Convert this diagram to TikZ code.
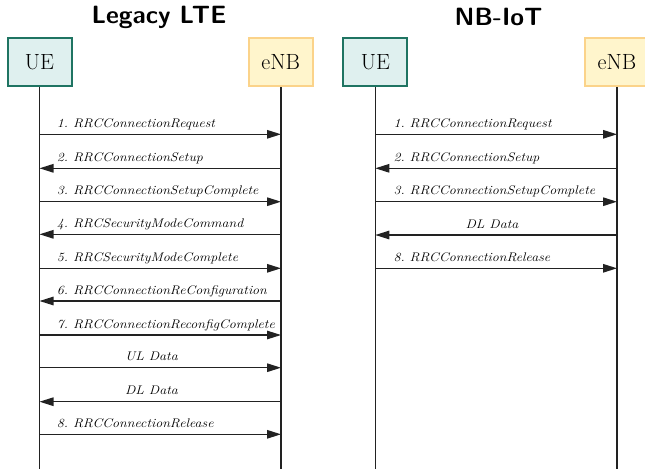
\documentclass[tikz,border=0pt]{standalone}
\usetikzlibrary{arrows.meta}
\definecolor{uefill}{HTML}{DFF0EF}
\definecolor{uedraw}{HTML}{1F7462}
\definecolor{enbfill}{HTML}{FFF5CC}
\definecolor{enbdraw}{HTML}{FBD38A}
\definecolor{ink}{HTML}{222222}
\begin{document}
\begin{tikzpicture}[x=1pt,y=-1pt,
  ent/.style={draw, line width=2pt, minimum width=64pt, minimum height=48.6pt, inner sep=0pt, font=\fontsize{22}{24}\selectfont},
  uebox/.style={ent, fill=uefill, draw=uedraw},
  enbbox/.style={ent, fill=enbfill, draw=enbdraw},
  life/.style={draw=ink, line width=1.5pt},
  msg/.style={draw=ink, line width=1.3pt, -{Triangle[length=14pt,width=8.5pt]}},
  lbl/.style={anchor=base west, inner sep=0pt, font=\fontsize{12.5}{14}\selectfont\itshape\frenchspacing},
  clbl/.style={anchor=base, inner sep=0pt, font=\fontsize{12.5}{14}\selectfont\itshape\frenchspacing},
  ttl/.style={font=\fontsize{25}{29}\selectfont\bfseries\sffamily, inner sep=0pt}]
\useasboundingbox (0,0) rectangle (645,469);
% titles
\node[ttl] (t1) at (159,17) {Legacy LTE};
\node[ttl] (t2) at (498.5,17) {NB-IoT};
% bottom coordinates
\coordinate (b1) at (39.5,469);
\coordinate (b2) at (281,469);
\coordinate (b3) at (375.3,469);
\coordinate (b4) at (617,469);
% lifelines
\draw[life] (39.5,62) -- (b1);
\draw[life] (281,62) -- (b2);
\draw[life] (375.3,62) -- (b3);
\draw[life] (617,62) -- (b4);
% boxes
\node[uebox] (ue1) at (39.5,62) {UE};
\node[enbbox] (enb1) at (280.7,62) {eNB};
\node[uebox] (ue2) at (375.3,62) {UE};
\node[enbbox] (enb2) at (617,62) {eNB};
% left panel messages
\foreach \y/\d/\t [count=\i] in {134.3/r/1. RRCConnectionRequest, 168.3/l/2. RRCConnectionSetup, 201.7/r/3. RRCConnectionSetupComplete, 234.3/l/4. RRCSecurityModeCommand, 268.3/r/5. RRCSecurityModeComplete, 301/l/6. RRCConnectionReConfiguration, 335/r/7. RRCConnectionReconfigComplete, 434.3/r/8. RRCConnectionRelease}{
  \coordinate (la\i) at (39.5,\y);
  \coordinate (ra\i) at (281,\y);
  \if\d r\draw[msg] (la\i) -- (ra\i);\else\draw[msg] (ra\i) -- (la\i);\fi
  \node[lbl] (lt\i) at (56.7,\y-7) {\scalebox{1.12}[1]{\t}};
}
\coordinate (lu) at (39.5,367.7); \coordinate (ru) at (281,367.7);
\draw[msg] (lu) -- (ru);
\node[clbl] (ltu) at (151.5,360.7) {\scalebox{1.12}[1]{UL Data}};
\coordinate (ld) at (39.5,401.7); \coordinate (rd) at (281,401.7);
\draw[msg] (rd) -- (ld);
\node[clbl] (ltd) at (151.5,394.7) {\scalebox{1.12}[1]{DL Data}};
% right panel messages
\foreach \y/\d/\t [count=\i] in {134.3/r/1. RRCConnectionRequest, 168.3/l/2. RRCConnectionSetup, 201.7/r/3. RRCConnectionSetupComplete, 268.3/r/8. RRCConnectionRelease}{
  \coordinate (lb\i) at (375.3,\y);
  \coordinate (rb\i) at (617,\y);
  \if\d r\draw[msg] (lb\i) -- (rb\i);\else\draw[msg] (rb\i) -- (lb\i);\fi
  \node[lbl] (rt\i) at (393.3,\y-7) {\scalebox{1.12}[1]{\t}};
}
\coordinate (lbd) at (375.3,235); \coordinate (rbd) at (617,235);
\draw[msg] (rbd) -- (lbd);
\node[clbl] (rtd) at (492,228) {\scalebox{1.12}[1]{DL Data}};
\end{tikzpicture}
\end{document}
